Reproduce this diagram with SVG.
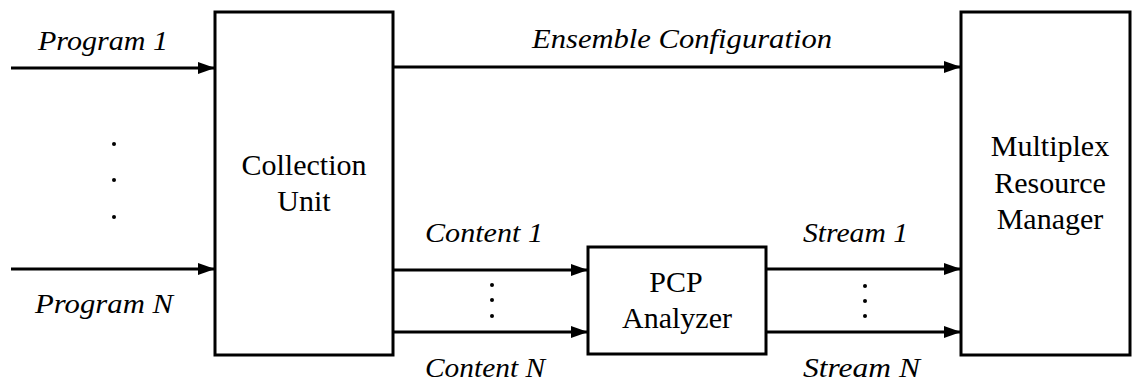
<svg xmlns="http://www.w3.org/2000/svg" width="1132" height="383" viewBox="0 0 1132 383">
<style>
.box{fill:#fff;stroke:#000;stroke-width:3}
.ln{stroke:#000;stroke-width:3;fill:none;marker-end:url(#ah)}
.lab{font-size:30px;fill:#000;text-anchor:middle}
.it{font-size:28px;font-style:italic;fill:#000}
.dot{fill:#000}
</style>
<defs>
<marker id="ah" markerUnits="userSpaceOnUse" markerWidth="18" markerHeight="12" refX="17" refY="6" orient="auto">
<path d="M0,0 L17,6 L0,12 z" fill="#000"/>
</marker>
</defs>
<rect width="1132" height="383" fill="#fff"/>
<g id="connectors">
<line class="ln" x1="11" y1="68" x2="215" y2="68"/>
<line class="ln" x1="11" y1="269" x2="215" y2="269"/>
<line class="ln" x1="393" y1="67" x2="961" y2="67"/>
<line class="ln" x1="393" y1="270" x2="588" y2="270"/>
<line class="ln" x1="393" y1="332" x2="588" y2="332"/>
<line class="ln" x1="766" y1="269" x2="961" y2="269"/>
<line class="ln" x1="766" y1="332" x2="961" y2="332"/>
</g>
<g id="labels" font-family="'Liberation Serif', 'DejaVu Serif', serif">
<text class="it" x="38" y="50" textLength="130" lengthAdjust="spacingAndGlyphs">Program 1</text>
<text class="it" x="35" y="313" textLength="138" lengthAdjust="spacingAndGlyphs">Program N</text>
<text class="it" x="532" y="48" textLength="300" lengthAdjust="spacingAndGlyphs">Ensemble Configuration</text>
<text class="it" x="425" y="242" textLength="118" lengthAdjust="spacingAndGlyphs">Content 1</text>
<text class="it" x="425" y="377" textLength="120" lengthAdjust="spacingAndGlyphs">Content N</text>
<text class="it" x="803" y="242" textLength="105" lengthAdjust="spacingAndGlyphs">Stream 1</text>
<text class="it" x="803" y="377" textLength="117" lengthAdjust="spacingAndGlyphs">Stream N</text>
</g>
<g id="dots">
<circle class="dot" cx="114" cy="144" r="2"/>
<circle class="dot" cx="114" cy="180" r="2"/>
<circle class="dot" cx="114" cy="217" r="2"/>
<circle class="dot" cx="492" cy="285" r="2"/>
<circle class="dot" cx="492" cy="300" r="2"/>
<circle class="dot" cx="492" cy="316" r="2"/>
<circle class="dot" cx="865" cy="286" r="2"/>
<circle class="dot" cx="865" cy="301" r="2"/>
<circle class="dot" cx="865" cy="316" r="2"/>
</g>
<g id="collection-unit" font-family="'Liberation Serif', 'DejaVu Serif', serif">
<rect class="box" x="215" y="12" width="178" height="343"/>
<text class="lab" x="304" y="175">Collection</text>
<text class="lab" x="304" y="211">Unit</text>
</g>
<g id="pcp-analyzer" font-family="'Liberation Serif', 'DejaVu Serif', serif">
<rect class="box" x="588" y="247" width="178" height="107"/>
<text class="lab" x="676" y="292">PCP</text>
<text class="lab" x="677" y="328">Analyzer</text>
</g>
<g id="multiplex-resource-manager" font-family="'Liberation Serif', 'DejaVu Serif', serif">
<rect class="box" x="961" y="12" width="169" height="343"/>
<text class="lab" x="1050" y="156">Multiplex</text>
<text class="lab" x="1050" y="193">Resource</text>
<text class="lab" x="1050" y="229">Manager</text>
</g>
</svg>
